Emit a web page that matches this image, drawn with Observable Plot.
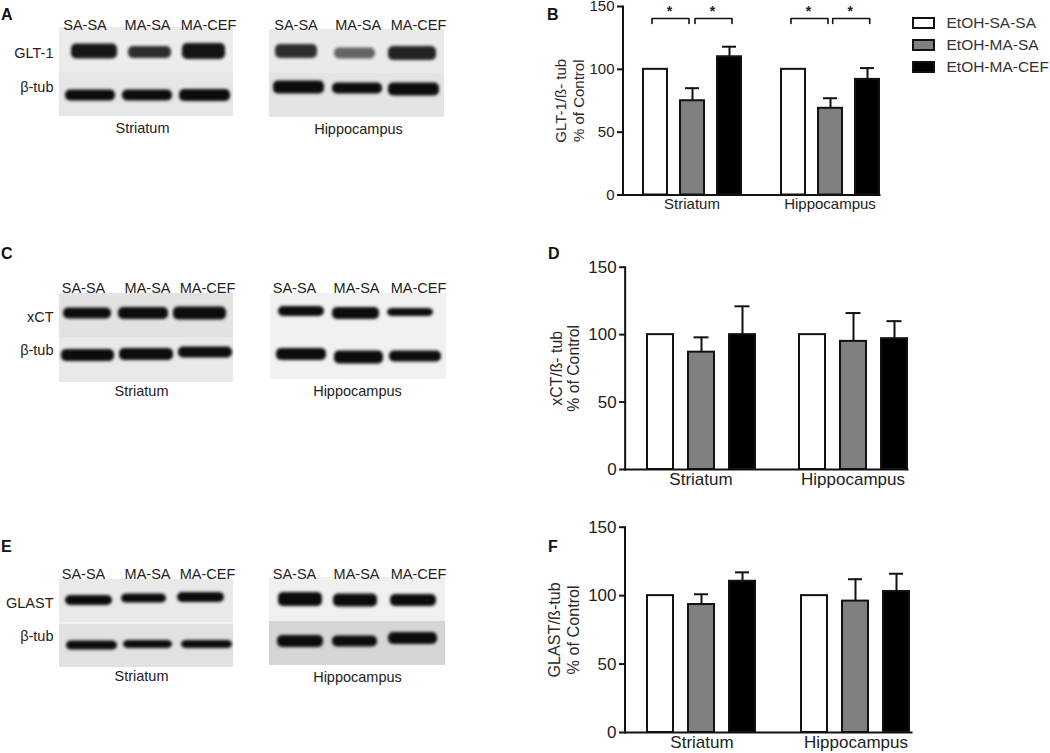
<!DOCTYPE html>
<html>
<head>
<meta charset="utf-8">
<script src="https://cdn.jsdelivr.net/npm/d3@7"></script>
<script src="https://cdn.jsdelivr.net/npm/@observablehq/plot@0.6"></script>
<style>
html,body{margin:0;padding:0;background:#fff}
#fig{position:relative;width:1050px;height:753px;overflow:hidden;font-family:"Liberation Sans",Arial,sans-serif}
#fig>svg{position:absolute;overflow:visible;max-width:none}
.letter{position:absolute;font-weight:bold;font-size:16px;line-height:16px;color:#111}
</style>
</head>
<body>
<div id="fig"></div>
<script>
const FONT = '"Liberation Sans", Arial, sans-serif';
const groups = ["Striatum", "Hippocampus"];
const treatments = ["EtOH-SA-SA", "EtOH-MA-SA", "EtOH-MA-CEF"];
const treatmentColors = ["white", "#808080", "black"];
const laneNames = ["SA-SA", "MA-SA", "MA-CEF"];
const yTicks = [0, 50, 100, 150];

// bar heights, and top of each error bar (order: Striatum x3, Hippocampus x3)
const gltMeans = [100, 75, 110, 100, 69, 92];
const gltTops = [100, 85, 118, 100, 77, 101];
const xctMeans = [100, 87, 100, 100, 95, 97];
const xctTops = [100, 98, 121, 100, 116, 110];
const glastMeans = [100, 93.5, 110.5, 100, 96, 103];
const glastTops = [100, 101, 117, 100, 112, 116];

// significance brackets in panel B: [group, from, to]
const brackets = [
  ["Striatum", "EtOH-SA-SA", "EtOH-MA-SA", -3.5],
  ["Striatum", "EtOH-MA-SA", "EtOH-MA-CEF", 2.5],
  ["Hippocampus", "EtOH-SA-SA", "EtOH-MA-SA", -2.5],
  ["Hippocampus", "EtOH-MA-SA", "EtOH-MA-CEF", 2.2]
];
const bracketTop = 140.5, bracketFoot = 136.5, starLevel = 146;

// Blot readings, membrane units: [laneStart, laneEnd, migration, thickness, density]
const gltStriatum = [[12,58,24,15,.95],[69,112,25,12,.85],[123,166,24,16,.97],[6,56,68,11,1],[63,113,68,11,1],[120,171,68,12,1]];
const gltHippocampus = [[6,48,22,14,.85],[65,106,24,11,.6],[119,167,24,14,.9],[4,55,58,13,1],[63,113,59,11,1],[119,170,60,13,1]];
const xctStriatum = [[4,52,20,11,1],[59,109,20,12,1],[114,167,20,13,1],[2,55,62,12,1],[60,114,61,12,1],[119,173,59,11,1]];
const xctHippocampus = [[8,54,18,10,1],[62,109,20,12,1],[117,163,19,8,1],[6,56,61,12,1],[64,113,64,13,1],[119,171,63,11,1]];
const glastStriatum = [[6,53,21,10,1],[62,107,19,9,1],[118,165,18,10,1],[7,58,66,9,1],[64,113,65,8,1],[122,173,65,8,1]];
const glastHippocampus = [[9,53,22,14,1],[64,108,23,13,1],[121,167,23,12,1],[8,54,64,12,1],[63,108,64,11,1],[119,168,61,12,1]];

const fig = document.getElementById("fig");
function place(svg, left, top) {
  svg.style.left = left + "px";
  svg.style.top = top + "px";
  fig.appendChild(svg);
}

function blot(c) {
  const bands = c.bands.map(([a, b, m, t, d]) => ({a, b, y1: m - t / 2, y2: m + t / 2, d}));
  const lanes = laneNames.map((n, i) => ({n, x: c.laneCenters[i]}));
  const marks = [
    Plot.rect(c.strips, {x1: () => 0, x2: () => c.w, y1: d => d[0], y2: d => d[1], fill: d => d[2]}),
    Plot.rect(bands, {x1: "a", x2: "b", y1: "y1", y2: "y2", fill: "#0c0c0c", fillOpacity: "d", rx: 5, imageFilter: "blur(1.5px)"}),
    Plot.text(lanes, {x: "x", text: "n", frameAnchor: "top", dy: c.laneDy, fontSize: 14.5, fill: "#222"}),
    Plot.text([c.region], {x: () => c.regionX, frameAnchor: "bottom", dy: c.regionDy, fontSize: 14.5, fill: "#222"})
  ];
  if (c.rowLabels) marks.push(Plot.text(c.rowLabels, {
    y: d => d[1], text: d => d[0], frameAnchor: "left", textAnchor: "end", dx: -6, fontSize: 14.5, fill: "#222"
  }));
  const mL = 60, mT = 30, mB = 30, mR = 6;
  const svg = Plot.plot({
    width: mL + c.w + mR, height: mT + c.h + mB,
    marginLeft: mL, marginRight: mR, marginTop: mT, marginBottom: mB,
    x: {domain: [0, c.w], axis: null},
    y: {domain: [c.h, 0], axis: null},
    opacity: {domain: [0, 1], range: [0, 1]},
    style: {fontFamily: FONT, background: "transparent", overflow: "visible"},
    marks
  });
  place(svg, c.x - mL, c.y - mT);
}

blot({x:59,y:27,w:174,h:89,region:"Striatum",regionX:83,regionDy:16.5,laneDy:-8,laneCenters:[25.5,88,149],
  strips:[[0,45,"#ececec"],[45,89,"#e6e6e6"]],bands:gltStriatum,rowLabels:[["GLT-1",25.5],["β-tub",60]]});
blot({x:269,y:29,w:175,h:88,region:"Hippocampus",regionX:89,regionDy:16,laneDy:-10,laneCenters:[26.5,88.7,149],
  strips:[[0,44,"#eaeaea"],[44,88,"#e4e4e4"]],bands:gltHippocampus});
blot({x:59,y:293,w:174,h:89,region:"Striatum",regionX:82,regionDy:13,laneDy:-11,laneCenters:[24,88,148],
  strips:[[0,44,"#e2e2e2"],[44,89,"#e9e9e9"]],bands:xctStriatum,rowLabels:[["xCT",24],["β-tub",57]]});
blot({x:270,y:293,w:176,h:86,region:"Hippocampus",regionX:87,regionDy:16,laneDy:-11,laneCenters:[24,86,148],
  strips:[[0,44,"#f1f1f1"],[44,86,"#f1f1f1"]],bands:xctHippocampus});
blot({x:59,y:579,w:174,h:88,region:"Striatum",regionX:82,regionDy:13.5,laneDy:-11,laneCenters:[24,88,148],
  strips:[[0,43.5,"#e9e9e9"],[44.5,88,"#e1e1e1"]],bands:glastStriatum,rowLabels:[["GLAST",23.7],["β-tub",57]]});
blot({x:269,y:577,w:176,h:88,region:"Hippocampus",regionX:88,regionDy:16,laneDy:-9,laneCenters:[25,87,149],
  strips:[[0,44,"#f0f0f0"],[44,88,"#d6d6d6"]],bands:glastHippocampus});

function barPanel(c) {
  const rows = c.means.map((m, i) => ({
    group: groups[Math.floor(i / 3)], treatment: treatments[i % 3], mean: m, top: c.tops[i]
  }));
  const err = rows.filter(d => d.top > d.mean);
  // marks anchored to the frame sit on the facet's edge: shift them back by the facet scale's outer padding
  const step = (c.width - c.ml) / 2;
  const pad = step * c.fxP / 2;
  const marks = [
    Plot.ruleX(err, {fx: "group", x: "treatment", y1: "mean", y2: "top", stroke: "#111", strokeWidth: 2}),
    Plot.tickY(err, {fx: "group", x: "treatment", y: "top", stroke: "#111", strokeWidth: 2, insetLeft: c.capInset, insetRight: c.capInset}),
    Plot.barY(rows, {fx: "group", x: "treatment", y: "mean", fill: "treatment", stroke: "#111", strokeWidth: 2}),
    Plot.frame({anchor: "left", facet: "super", stroke: "#111", strokeWidth: 2, dx: -pad}),
    Plot.frame({anchor: "bottom", facet: "super", stroke: "#111", strokeWidth: 2, insetLeft: -pad}),
    Plot.axisY({ticks: yTicks, tickSize: 5.5, tickPadding: 3, fontSize: c.fs, label: null, tickFormat: d => d, stroke: "#111", strokeWidth: 2, fill: "#222", dx: -pad}),
    Plot.axisFx({anchor: "bottom", tickSize: 0, tickPadding: 3, label: null, fontSize: c.fs, fill: "#222"}),
    Plot.text([c.yLabel], {facet: "super", frameAnchor: "left", textAnchor: "middle", rotate: -90, dx: c.labelDx - pad, lineHeight: c.lh, fontSize: c.lfs, fill: "#2a2a2a"})
  ];
  if (c.brackets) {
    c.brackets.forEach(([g, a, b, dx]) => {
      const path = [[a, bracketFoot], [a, bracketTop], [b, bracketTop], [b, bracketFoot]];
      marks.push(Plot.line(path, {fx: () => g, x: d => d[0], y: d => d[1], dx, stroke: "#111", strokeWidth: 1.6, curve: "linear"}));
      marks.push(Plot.text(["*"], {fx: () => g, x: () => a, y: () => starLevel, dx: dx + 17.5, fontSize: 14, fontWeight: "bold", fill: "#222"}));
    });
  }
  const svg = Plot.plot({
    width: c.width, height: c.height,
    marginLeft: c.ml, marginRight: 0, marginTop: c.mt, marginBottom: c.mb,
    fx: {domain: groups, paddingInner: c.fxP, paddingOuter: c.fxP / 2, label: null, axis: null},
    x: {domain: treatments, paddingInner: c.xP, paddingOuter: 0, axis: null},
    y: {domain: [0, 150], axis: null},
    color: {domain: treatments, range: treatmentColors},
    style: {fontFamily: FONT, background: "transparent", overflow: "visible"},
    marks
  });
  place(svg, c.left, c.top);
}

barPanel({left:530,top:0,width:368,height:220,ml:92,mt:6,mb:25.5,fxP:.283,xP:.36,capInset:5,
  fs:15,lfs:15,lh:1.25,labelDx:-54,yLabel:"GLT-1/ß- tub\n% of Control",means:gltMeans,tops:gltTops,brackets});
barPanel({left:530,top:250,width:399,height:249,ml:95,mt:16.7,mb:30,fxP:.281,xP:.366,capInset:5.5,
  fs:17,lfs:15.8,lh:1.05,labelDx:-60,yLabel:"xCT/ß- tub\n% of Control",means:xctMeans,tops:xctTops});
barPanel({left:530,top:510,width:403,height:243,ml:95,mt:16.7,mb:21,fxP:.279,xP:.357,capInset:6,
  fs:17,lfs:16.2,lh:1.2,labelDx:-62,yLabel:"GLAST/ß-tub\n% of Control",means:glastMeans,tops:glastTops});

// legend
place(Plot.plot({
  width: 145, height: 77.3, marginLeft: 8, marginRight: 116, marginTop: 11.7, marginBottom: 10,
  x: {domain: ["key"], padding: 0, axis: null},
  y: {domain: treatments, paddingInner: .55, paddingOuter: 0, axis: null},
  color: {domain: treatments, range: treatmentColors},
  style: {fontFamily: FONT, background: "transparent", overflow: "visible"},
  marks: [
    Plot.cell(treatments, {x: () => "key", y: d => d, fill: d => d, stroke: "#111", strokeWidth: 2}),
    Plot.text(treatments, {frameAnchor: "right", y: d => d, text: d => d, textAnchor: "start", dx: 12, fontSize: 15.5, fill: "#333"})
  ]
}), 905, 5);

[["A",1,7],["B",547,7],["C",1,246],["D",548,246],["E",1,539],["F",548,539]].forEach(([t,l,tp]) => {
  const d = document.createElement("div");
  d.className = "letter"; d.textContent = t; d.style.left = l + "px"; d.style.top = tp + "px";
  fig.appendChild(d);
});
</script>
</body>
</html>
